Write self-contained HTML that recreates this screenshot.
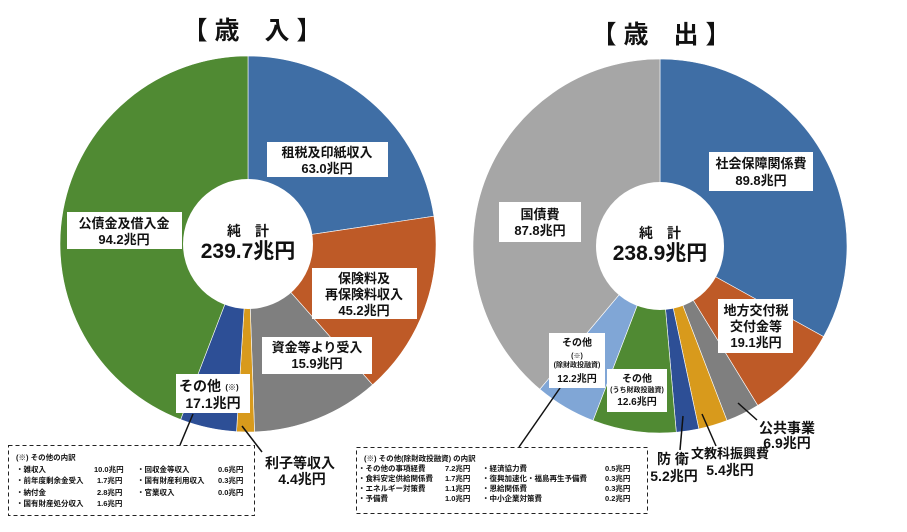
<!DOCTYPE html>
<html><head><meta charset="utf-8"><style>
html,body{margin:0;padding:0;background:#fff;}
svg{display:block;font-family:"Liberation Sans","Noto Sans CJK JP",sans-serif;}
.b{font-weight:bold;fill:#111;}
</style></head><body>
<svg id="s" width="907" height="532" viewBox="0 0 907 532" xmlns="http://www.w3.org/2000/svg">
<g id="pies"></g>
<text x="252" y="39" text-anchor="middle" class="b" font-size="25">【 歳　入 】</text>
<text x="661" y="43" text-anchor="middle" class="b" font-size="25">【 歳　出 】</text>

<g font-size="13" text-anchor="middle" class="b">
<rect x="267" y="142" width="121" height="35" fill="#fff"/>
<text x="327" y="157" class="b">租税及印紙収入</text><text x="327" y="173" class="b">63.0兆円</text>
<rect x="67" y="212" width="115" height="37" fill="#fff"/>
<text x="124" y="228" class="b">公債金及借入金</text><text x="124" y="244" class="b">94.2兆円</text>
<rect x="312" y="268" width="105" height="51" fill="#fff"/>
<text x="364" y="283" class="b">保険料及</text><text x="364" y="299" class="b">再保険料収入</text><text x="364" y="315" class="b">45.2兆円</text>
<rect x="262" y="337" width="110" height="37" fill="#fff"/>
<text x="317" y="352" class="b">資金等より受入</text><text x="317" y="368" class="b">15.9兆円</text>
<rect x="176" y="374" width="74" height="39" fill="#fff"/>
<text x="200" y="391" class="b" font-size="14">その他</text><text x="232" y="390" class="b" font-size="8">(※)</text>
<text x="213" y="408" class="b" font-size="14">17.1兆円</text>
<text x="300" y="468" class="b" font-size="14">利子等収入</text><text x="302" y="484" class="b" font-size="14">4.4兆円</text>
<text x="248" y="236" class="b" font-size="14">純　計</text>
<text x="248" y="258" class="b" font-size="21">239.7兆円</text>
</g>
<g stroke="#111" stroke-width="1.5"><line x1="242" y1="426" x2="262" y2="452"/><line x1="193" y1="414" x2="180" y2="445"/>
<line x1="738" y1="403" x2="757" y2="420"/><line x1="702" y1="414" x2="716" y2="446"/><line x1="683" y1="416" x2="680" y2="450"/><line x1="560" y1="388" x2="519" y2="447"/></g>

<g font-size="13" text-anchor="middle">
<rect x="709" y="152" width="104" height="39" fill="#fff"/>
<text x="761" y="168" class="b">社会保障関係費</text><text x="761" y="185" class="b">89.8兆円</text>
<rect x="499" y="202" width="82" height="40" fill="#fff"/>
<text x="540" y="219" class="b">国債費</text><text x="540" y="235" class="b">87.8兆円</text>
<rect x="718" y="299" width="75" height="54" fill="#fff"/>
<text x="756" y="315" class="b">地方交付税</text><text x="756" y="331" class="b">交付金等</text><text x="756" y="347" class="b">19.1兆円</text>
<rect x="549" y="333" width="56" height="55" fill="#fff"/>
<text x="577" y="346" class="b" font-size="10">その他</text><text x="577" y="358" class="b" font-size="7">(※)</text><text x="577" y="367" class="b" font-size="7">(除財政投融資)</text><text x="577" y="382" class="b" font-size="10">12.2兆円</text>
<rect x="607" y="369" width="60" height="43" fill="#fff"/>
<text x="637" y="382" class="b" font-size="10">その他</text><text x="637" y="392" class="b" font-size="7">(うち財政投融資)</text><text x="637" y="405" class="b" font-size="10">12.6兆円</text>
<text x="787" y="433" class="b" font-size="14">公共事業</text><text x="787" y="448" class="b" font-size="14">6.9兆円</text>
<text x="730" y="458" class="b" font-size="13">文教科振興費</text><text x="730" y="475" class="b" font-size="14">5.4兆円</text>
<text x="673" y="464" class="b" font-size="14">防 衛</text><text x="674" y="481" class="b" font-size="14">5.2兆円</text>
<text x="660" y="238" class="b" font-size="14">純　計</text>
<text x="660" y="260" class="b" font-size="21">238.9兆円</text>
</g>

<rect x="8.5" y="445.5" width="246" height="70" fill="#fff" stroke="#222" stroke-dasharray="4,3"/>
<g font-size="7.5" class="b">
<text x="16" y="460" class="b">(※) その他の内訳</text>
<text x="16" y="472" class="b">・雑収入</text><text x="94" y="472" class="b">10.0兆円</text><text x="137" y="472" class="b">・回収金等収入</text><text x="218" y="472" class="b">0.6兆円</text>
<text x="16" y="483" class="b">・前年度剰余金受入</text><text x="97" y="483" class="b">1.7兆円</text><text x="137" y="483" class="b">・国有財産利用収入</text><text x="218" y="483" class="b">0.3兆円</text>
<text x="16" y="495" class="b">・納付金</text><text x="97" y="495" class="b">2.8兆円</text><text x="137" y="495" class="b">・官業収入</text><text x="218" y="495" class="b">0.0兆円</text>
<text x="16" y="506" class="b">・国有財産処分収入</text><text x="97" y="506" class="b">1.6兆円</text>
</g>
<rect x="356.5" y="447.5" width="291" height="66" fill="#fff" stroke="#222" stroke-dasharray="4,3"/>
<g font-size="7.5">
<text x="364" y="461" class="b">(※) その他(除財政投融資) の内訳</text>
<text x="358" y="471" class="b">・その他の事項経費</text><text x="445" y="471" class="b">7.2兆円</text><text x="482" y="471" class="b">・経済協力費</text><text x="605" y="471" class="b">0.5兆円</text>
<text x="358" y="481" class="b">・食料安定供給関係費</text><text x="445" y="481" class="b">1.7兆円</text><text x="482" y="481" class="b">・復興加速化・福島再生予備費</text><text x="605" y="481" class="b">0.3兆円</text>
<text x="358" y="491" class="b">・エネルギー対策費</text><text x="445" y="491" class="b">1.1兆円</text><text x="482" y="491" class="b">・恩給関係費</text><text x="605" y="491" class="b">0.3兆円</text>
<text x="358" y="501" class="b">・予備費</text><text x="445" y="501" class="b">1.0兆円</text><text x="482" y="501" class="b">・中小企業対策費</text><text x="605" y="501" class="b">0.2兆円</text>
</g>
</svg>
<script>
function pie(cx,cy,r,ri,data){
  var g=document.getElementById('pies'),a=0;
  data.forEach(function(d){
    var a2=d[0]*Math.PI/180;
    var x1=cx+r*Math.sin(a),y1=cy-r*Math.cos(a),x2=cx+r*Math.sin(a2),y2=cy-r*Math.cos(a2);
    var p=document.createElementNS('http://www.w3.org/2000/svg','path');
    p.setAttribute('d','M'+cx+','+cy+'L'+x1+','+y1+'A'+r+','+r+' 0 '+((a2-a)>Math.PI?1:0)+' 1 '+x2+','+y2+'Z');
    p.setAttribute('fill',d[1]);p.setAttribute('stroke','#fff');p.setAttribute('stroke-width','0.6');
    g.appendChild(p);a=a2;
  });
  var c=document.createElementNS('http://www.w3.org/2000/svg','circle');
  c.setAttribute('cx',cx);c.setAttribute('cy',cy);c.setAttribute('r',ri);c.setAttribute('fill','#fff');g.appendChild(c);
}
pie(248,244,188,65,[[81.5,'#3F6EA5'],[138.5,'#BE5A27'],[178,'#7F7F7F'],[183.5,'#D89A1C'],[201,'#2D4F96'],[360,'#508A33']]);
pie(660,246,187,64,[[119,'#3F6EA5'],[148.5,'#BE5A27'],[159,'#7F7F7F'],[168,'#D89A1C'],[175,'#2D4F96'],[201,'#508A33'],[220,'#80A6D6'],[360,'#A6A6A6']]);
</script>
</body></html>
